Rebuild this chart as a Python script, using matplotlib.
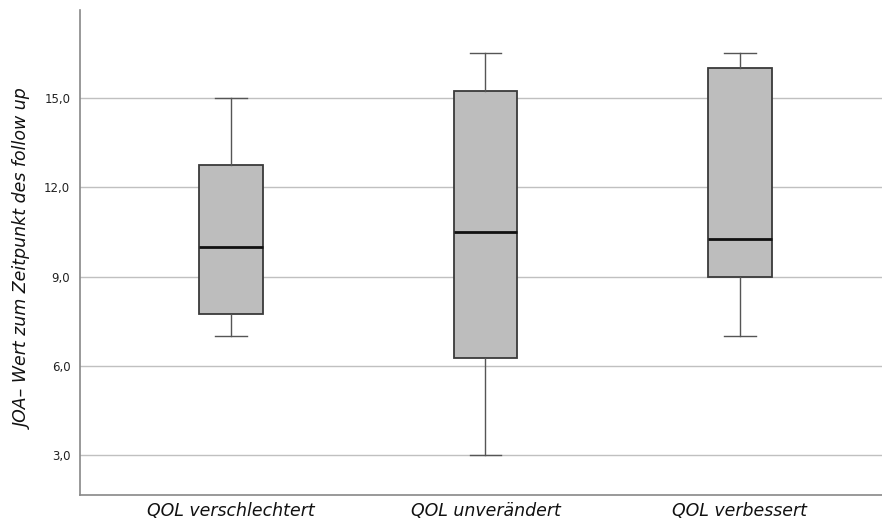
import matplotlib
matplotlib.use("Agg")
import matplotlib.pyplot as plt

categories = ["QOL verschlechtert", "QOL unverändert", "QOL verbessert"]
whisker_low = [7.0, 3.0, 7.0]
q1 = [7.75, 6.25, 9.0]
median = [10.0, 10.5, 10.25]
q3 = [12.75, 15.25, 16.0]
whisker_high = [15.0, 16.5, 16.5]
yticks = [3.0, 6.0, 9.0, 12.0, 15.0]
ytick_labels = ["3,0", "6,0", "9,0", "12,0", "15,0"]

fig = plt.figure(figsize=(8.82, 5.22), dpi=100)
ax = fig.add_axes([80/882, 1-495/522, 1-80/882, (495-10)/522])

stats = []
for i, c in enumerate(categories):
    stats.append(dict(label=c, whislo=whisker_low[i], q1=q1[i], med=median[i],
                      q3=q3[i], whishi=whisker_high[i], fliers=[]))

ax.bxp(stats, positions=[1, 2, 3], widths=0.25, patch_artist=True,
       boxprops=dict(facecolor="#BDBDBD", edgecolor="#3a3a3a", linewidth=1.3),
       medianprops=dict(color="#111111", linewidth=2.0),
       whiskerprops=dict(color="#555555", linewidth=1.0),
       capprops=dict(color="#555555", linewidth=1.0),
       capwidths=0.125, showfliers=False, zorder=3)

ax.set_xlim(0.407, 3.558)
ax.set_ylim(1.655, 17.96)
ax.set_yticks(yticks)
ax.set_yticklabels(ytick_labels, fontsize=8.5, color="#222222")
ax.yaxis.grid(True, color="#c0c0c0", linewidth=1.0, zorder=0)
ax.set_axisbelow(True)
ax.tick_params(axis="both", length=0)
ax.tick_params(axis="y", pad=7)
ax.tick_params(axis="x", pad=5)
ax.set_xticks([1, 2, 3])
ax.set_xticklabels(categories, fontsize=12.5, style="italic", color="#111111")
ax.set_ylabel("JOA– Wert zum Zeitpunkt des follow up", fontsize=12.5, style="italic",
              color="#111111")
ax.yaxis.set_label_coords(-0.059, 0.487)
for s in ["top", "right"]:
    ax.spines[s].set_visible(False)
for s in ["left", "bottom"]:
    ax.spines[s].set_color("#888888")
    ax.spines[s].set_linewidth(1.2)

fig.savefig("out.png", dpi=100)
